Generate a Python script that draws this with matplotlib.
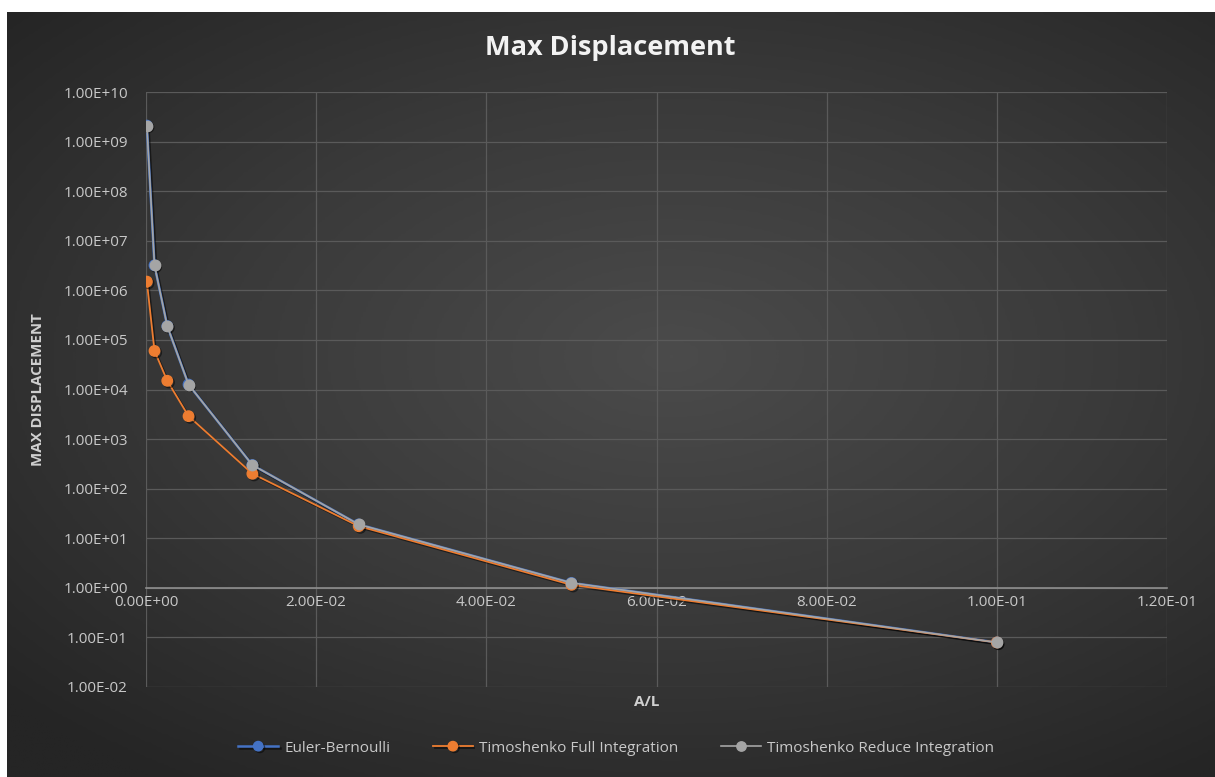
import matplotlib.pyplot as plt
import matplotlib.patheffects as pe
import numpy as np
from matplotlib.colors import LinearSegmentedColormap
from matplotlib.ticker import FixedLocator, FuncFormatter, NullLocator

plt.rcParams['font.family'] = ['Open Sans', 'DejaVu Sans']

# data
a_over_l = [0.0001, 0.001, 0.0025, 0.005, 0.0125, 0.025, 0.05, 0.1]
euler_bernoulli = [2.1e9, 3.2e6, 1.9e5, 1.26e4, 3.0e2, 1.9e1, 1.26, 0.079]
timo_full = [1.5e6, 6.0e4, 1.5e4, 2.9e3, 2.0e2, 1.75e1, 1.15, 0.079]
timo_reduce = [2.1e9, 3.2e6, 1.9e5, 1.26e4, 3.0e2, 1.9e1, 1.26, 0.079]

x_ticks = [0, 0.02, 0.04, 0.06, 0.08, 0.10, 0.12]
y_ticks = [10.0 ** k for k in range(-2, 11)]

W, H = 1215, 777
fig = plt.figure(figsize=(W / 100, H / 100), dpi=100)
fig.patch.set_facecolor('white')

# dark radial background
bg = fig.add_axes([7 / W, 0, 1 - 7 / W, 1 - 12 / H])
bg.axis('off')
yy, xx = np.mgrid[-1:1:300j, -1:1:500j]
r = np.sqrt(((xx - 0.1) / 1.1) ** 2 + ((yy + 0.1) / 1.0) ** 2)
cmap = LinearSegmentedColormap.from_list('bg', ['#4b4b4b', '#3a3a3a', '#252525'])
bg.imshow(r, cmap=cmap, vmin=0, vmax=1.35, aspect='auto', interpolation='bilinear')

ax = fig.add_axes([146 / W, 1 - 687 / H, (1167 - 146) / W, (687 - 92) / H])
ax.patch.set_alpha(0)

shadow = [pe.SimpleLineShadow(offset=(1.2, -1.2), shadow_color='black', alpha=0.5), pe.Normal()]

ax.plot(a_over_l, euler_bernoulli, color='#4472C4', lw=1.8, marker='o', ms=7.5,
        label='Euler-Bernoulli', zorder=3, path_effects=shadow)
ax.plot(a_over_l, timo_full, color='#ED7D31', lw=1.3, marker='o', ms=7.5,
        label='Timoshenko Full Integration', zorder=4, path_effects=shadow)
ax.plot(a_over_l, timo_reduce, color='#A5A5A5', lw=1.2, marker='o', ms=7.5,
        label='Timoshenko Reduce Integration', zorder=5)

ax.set_yscale('log')
ax.set_xlim(0, 0.12)
ax.set_ylim(1e-2, 1e10)
ax.xaxis.set_major_locator(FixedLocator(x_ticks))
ax.yaxis.set_major_locator(FixedLocator(y_ticks))
ax.yaxis.set_minor_locator(NullLocator())
ax.xaxis.set_major_formatter(FuncFormatter(lambda v, p: f'{v:.2E}'))
ax.yaxis.set_major_formatter(FuncFormatter(lambda v, p: f'{v:.2E}'))

for s in ['top', 'right', 'left']:
    ax.spines[s].set_visible(False)
ax.spines['bottom'].set_position(('data', 1))
ax.spines['bottom'].set_color('#8e8e8e')
ax.spines['bottom'].set_linewidth(1.2)

ax.grid(True, color='#5a5a5a', lw=0.9)
ax.set_axisbelow(True)
ax.tick_params(length=0, colors='#c8c8c8', labelsize=11)
ax.tick_params(axis='x', pad=5)
ax.tick_params(axis='y', pad=13)

ax.set_ylabel('MAX DISPLACEMENT', color='#d0d0d0', fontsize=10.8, fontweight='bold')
ax.yaxis.set_label_coords(-0.099, 0.5)
ax.set_xlabel('A/L', color='#d0d0d0', fontsize=11, fontweight='bold')
ax.xaxis.set_label_coords(0.49, -0.014)

fig.text(0.502, 1 - 48 / H, 'Max Displacement', ha='center', va='center',
         fontsize=19.5, fontweight='bold', color='#f2f2f2')

fig.legend(loc='center', bbox_to_anchor=(0.507, 1 - 748 / H), ncol=3, frameon=False,
           labelcolor='#c8c8c8', fontsize=11, columnspacing=2.8, handlelength=2.6,
           handletextpad=0.4, markerscale=0.9)

fig.savefig('out.png', dpi=100, facecolor=fig.get_facecolor())
